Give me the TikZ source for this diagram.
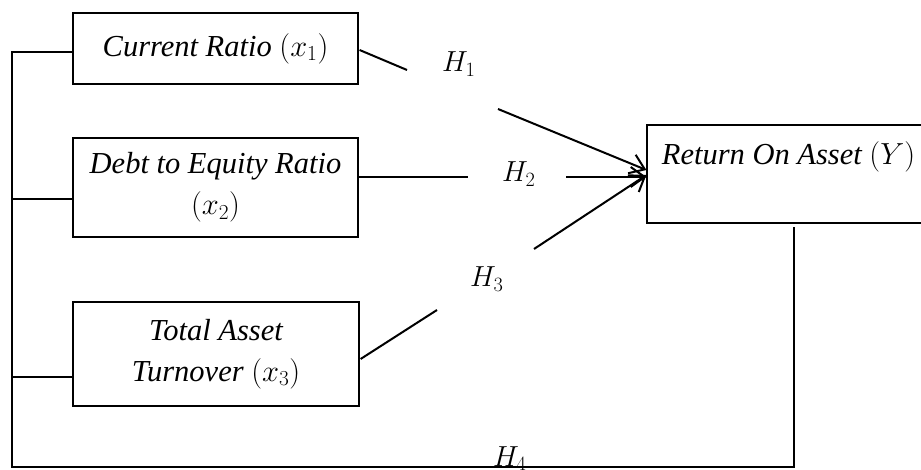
\RequirePackage{fix-cm}
\documentclass[tikz,border=0pt]{standalone}
\usepackage{fontspec}
\setmainfont{Liberation Serif}
\usetikzlibrary{arrows.meta,calc}
\begin{document}
\begin{tikzpicture}[x=1pt,y=-1pt,
  box/.style={draw, line width=1.2pt, inner sep=0pt, align=center, font=\fontsize{30.5}{41}\selectfont\itshape},
  conn/.style={line width=2pt},
  bus/.style={line width=1.5pt},
  arr/.style={conn, -{Straight Barb[length=14pt,width=20pt]}},
  hlab/.style={inner sep=0pt, anchor=base west, font=\fontsize{29}{40}\selectfont}]
\useasboundingbox (0,0) rectangle (921,470);
% boxes
\node[box, minimum width=285, minimum height=71] (b1) at (215.5,48.5) {Current Ratio $(x_1)$};
\node[box, minimum width=285, minimum height=99] (b2) at (215.5,187.5) {Debt to Equity Ratio\\$(x_2)$};
\node[box, minimum width=286, minimum height=104] (b3) at (216,354) {Total Asset\\Turnover $(x_3)$};
\node[box, minimum width=283, minimum height=98, text height=40, text depth=58] (by) at (788.5,174) {Return On Asset $(Y)$};
% labels
\node[hlab] (h1) at (442,72) {$H_1$};
\node[hlab] (h2) at (502,182) {$H_2$};
\node[hlab] (h3) at (470,287) {$H_3$};
\node[hlab] (h4) at (493,466) {$H_4$};
% arrow 1
\coordinate (p1a) at (407,70);
\coordinate (p1b) at (498,109);
\draw[conn] ($(b1.east)+(1,1.5)$) -- (p1a);
\draw[arr] (p1b) -- ($(by.west)+(0,-4)$);
% arrow 2
\coordinate (p2a) at (468,177);
\coordinate (p2b) at (566,177);
\draw[conn] ($(b2.east)+(0,-10.5)$) -- (p2a);
\draw[arr] (p2b) -- ($(by.west)+(0,3)$);
% arrow 3
\coordinate (p3a) at (437,310);
\coordinate (p3b) at (534,249);
\draw[conn] ($(b3.east)+(1,5)$) -- (p3a);
\draw[arr] (p3b) -- ($(by.west)+(0,1)$);
% bus
\coordinate (L1) at (12,52);
\coordinate (L2) at (12,199);
\coordinate (L3) at (12,377);
\coordinate (LB) at (12,467);
\coordinate (RB) at (794,467);
\coordinate (RT) at (794,227);
\draw[bus] (b1.west |- L1) -- (L1) -- (LB) -- (RB) -- (RT);
\draw[bus] (L2) -- (b2.west |- L2);
\draw[bus] (L3) -- (b3.west |- L3);
\end{tikzpicture}
\end{document}
